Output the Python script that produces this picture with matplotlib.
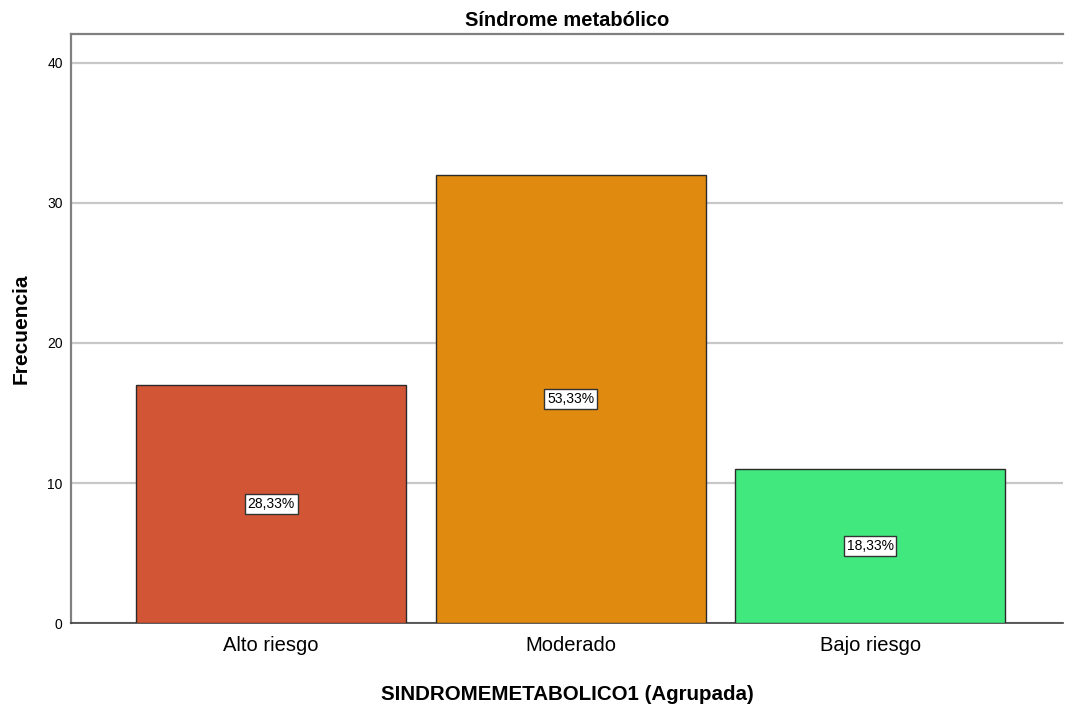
import matplotlib
matplotlib.use("Agg")
import matplotlib.pyplot as plt
from matplotlib import font_manager

categories = ["Alto riesgo", "Moderado", "Bajo riesgo"]
counts = [17, 32, 11]
bar_colors = ["#D25535", "#E08A10", "#40E87E"]
y_ticks = [0, 10, 20, 30, 40]

names = {f.name for f in font_manager.fontManager.ttflist}
narrow = "Liberation Sans Narrow" if "Liberation Sans Narrow" in names else "Liberation Sans"
plt.rcParams["font.family"] = ["Liberation Sans", "DejaVu Sans"]

fig = plt.figure(figsize=(10.65, 7.07), dpi=100)
ax = fig.add_axes([0.0667, 0.1188, 0.9315, 0.8331])

total = sum(counts)
x = list(range(len(categories)))
ax.set_axisbelow(True)
ax.yaxis.grid(True, color="#C8C8C8", linewidth=1.6)
ax.bar(x, counts, width=0.9015, color=bar_colors, edgecolor="#2b2b2b",
       linewidth=1.0, zorder=3)

for xi, c in zip(x, counts):
    pct = f"{100 * c / total:.2f}%".replace(".", ",")
    ax.text(xi, c / 2, pct, ha="center", va="center", fontsize=10,
            family=[narrow, "DejaVu Sans"], zorder=4,
            bbox=dict(boxstyle="square,pad=0.2", facecolor="white",
                      edgecolor="#333333", linewidth=1.0))

ax.set_xlim(-0.668, 2.644)
ax.set_ylim(0, 42.07)
ax.set_yticks(y_ticks)
ax.set_yticklabels([str(t) for t in y_ticks], family=[narrow, "DejaVu Sans"],
                   fontsize=10)
ax.set_xticks(x)
ax.set_xticklabels(categories, family=[narrow, "DejaVu Sans"], fontsize=14.5)
ax.tick_params(axis="both", length=0, pad=6)
ax.tick_params(axis="x", pad=9)

for side in ["top", "left"]:
    ax.spines[side].set_color("#808080")
    ax.spines[side].set_linewidth(1.6)
ax.spines["bottom"].set_color("#404040")
ax.spines["bottom"].set_linewidth(1.2)
ax.spines["right"].set_visible(False)

ax.set_title("Síndrome metabólico", fontsize=14.5, fontweight="bold", pad=6)
ax.set_xlabel("SINDROMEMETABOLICO1 (Agrupada)", fontsize=14.8,
              fontweight="bold", labelpad=22)
ax.set_ylabel("Frecuencia", fontsize=15, fontweight="bold", labelpad=12)

fig.savefig("out.png", dpi=100)
